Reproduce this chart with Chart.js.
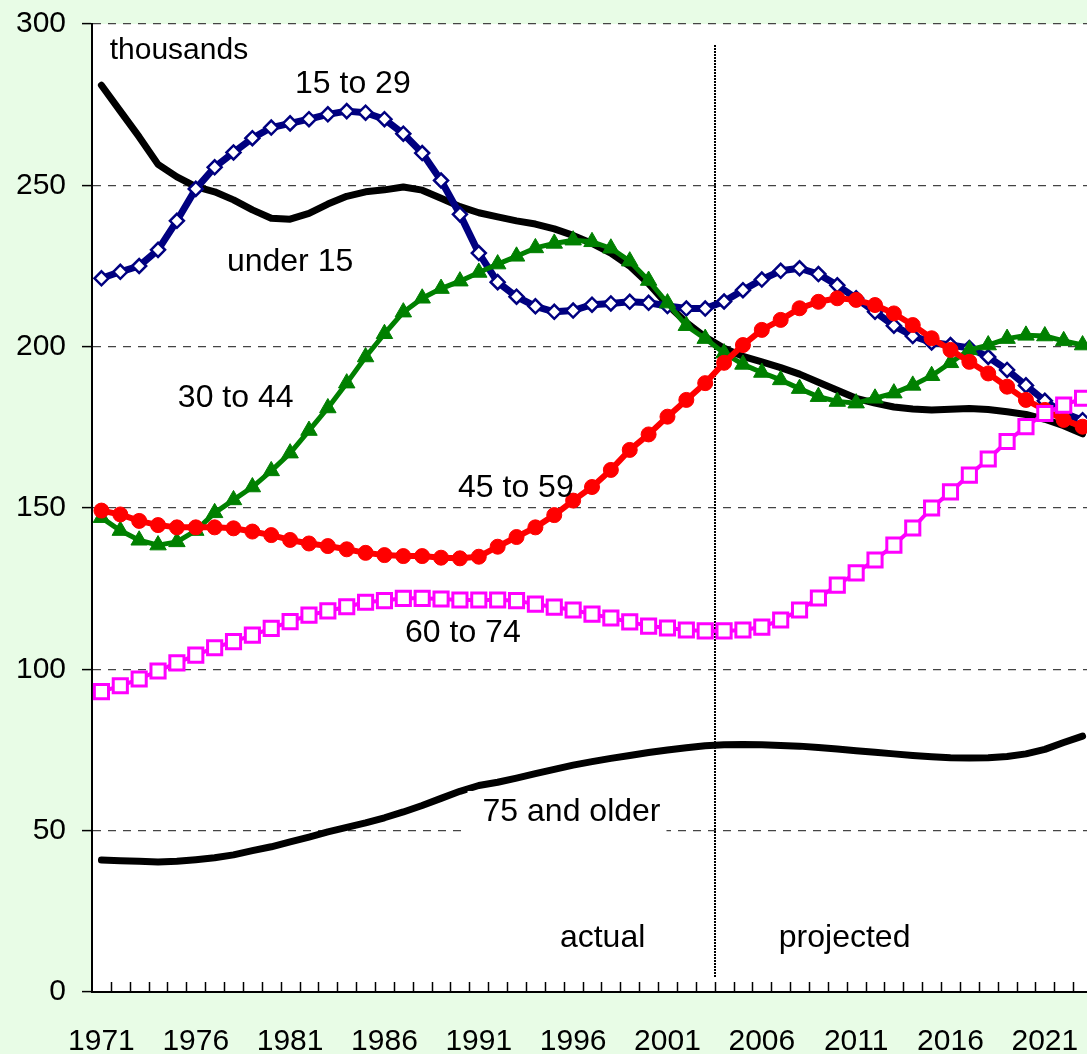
<!DOCTYPE html>
<html>
<head>
<meta charset="utf-8">
<script src="https://cdn.jsdelivr.net/npm/chart.js@4.4.0/dist/chart.umd.min.js"></script>
<style>
  html, body { margin: 0; padding: 0; background: #e8fce6; overflow: hidden; }
  #marco { width: 1092px; height: 1054px; }
</style>
</head>
<body>
<div id="marco"><canvas id="grafico" width="1092" height="1054"></canvas></div>
<script>
const years = [1971, 1972, 1973, 1974, 1975, 1976, 1977, 1978, 1979, 1980,
  1981, 1982, 1983, 1984, 1985, 1986, 1987, 1988, 1989, 1990,
  1991, 1992, 1993, 1994, 1995, 1996, 1997, 1998, 1999, 2000,
  2001, 2002, 2003, 2004, 2005, 2006, 2007, 2008, 2009, 2010,
  2011, 2012, 2013, 2014, 2015, 2016, 2017, 2018, 2019, 2020,
  2021, 2022, 2023];

// thousands
const under15 = [281, 273, 265, 256.5, 252.6, 249.6, 248, 245.5, 242.4, 239.8,
  239.5, 241.3, 244.2, 246.6, 248, 248.6, 249.5, 248.5, 246, 243.4,
  241.5, 240.2, 239, 238, 236.5, 234.5, 232, 229, 225, 219.5,
  213, 207.5, 203, 199.5, 197, 195.3, 193.5, 191.5, 189, 186.5,
  184, 182.5, 181.3, 180.7, 180.4, 180.6, 180.8, 180.5, 179.8, 179,
  177.5, 175.5, 173];
const age15to29 = [221.2, 223.2, 225, 230, 239, 248.9, 255.6, 260.2, 264.6, 267.9,
  269.2, 270.5, 272, 273, 272.5, 270.5, 266, 260, 251.5, 241,
  229, 220, 215.5, 212.5, 210.8, 211.2, 213, 213.4, 213.9, 213.6,
  212.6, 211.8, 211.8, 214, 217.5, 220.8, 223.5, 224.3, 222.5, 219,
  215, 210.8, 206.5, 203.3, 201.3, 200.5, 199.6, 196.8, 192.8, 188,
  183.2, 179.4, 177.2];
const age30to44 = [147, 143, 140, 138.5, 139.5, 143, 148.5, 152.5, 156.5, 161.5,
  167, 174, 181, 188.7, 196.8, 204, 210.7, 215, 218, 220.3,
  223, 225.6, 228, 230.6, 232, 233, 232.5, 230.5, 226.5, 220.5,
  213.5, 206.5, 202.5, 198, 194.5, 192, 189.7, 187, 184.5, 183,
  182.5, 184, 185.6, 188, 191, 195, 199, 200.5, 202.5, 203.5,
  203.3, 201.8, 200.5];
const age45to59 = [149.2, 148, 146, 144.7, 144, 144, 144, 143.7, 142.7, 141.6,
  140.1, 139, 138.2, 137.2, 136.1, 135.4, 135.1, 135.1, 134.6, 134.4,
  134.9, 138, 141, 144, 147.8, 152.3, 156.5, 161.8, 168, 172.8,
  178.3, 183.5, 188.7, 195, 200.5, 205.2, 208.3, 211.9, 213.9, 215,
  214.5, 212.9, 210.3, 206.7, 202.6, 199, 195.3, 191.7, 187.6, 183.5,
  180.4, 177.3, 175.2];
const age60to74 = [93.1, 94.9, 97, 99.5, 102, 104.4, 106.7, 108.6, 110.6, 112.7,
  114.8, 116.8, 118.1, 119.4, 120.8, 121.3, 122, 122, 121.8, 121.5,
  121.5, 121.5, 121.3, 120.2, 119.3, 118.4, 117.1, 115.9, 114.7, 113.4,
  112.8, 112.2, 111.9, 111.9, 112.2, 113.1, 115.3, 118.4, 122.1, 126.1,
  129.9, 133.9, 138.5, 143.8, 150, 155, 160.2, 165.2, 170.6, 175.2,
  179.3, 181.9, 184];
const age75plus = [40.9, 40.7, 40.5, 40.3, 40.5, 41, 41.6, 42.5, 43.8, 45,
  46.5, 48, 49.6, 51, 52.4, 54, 55.8, 57.8, 60, 62.2,
  64, 65, 66.3, 67.7, 69, 70.3, 71.4, 72.4, 73.3, 74.2,
  75, 75.7, 76.3, 76.6, 76.7, 76.6, 76.4, 76.2, 75.8, 75.3,
  74.8, 74.3, 73.8, 73.3, 72.9, 72.6, 72.5, 72.6, 73, 73.8,
  75.2, 77.3, 79.3];

const fuente = "'Liberation Sans', Arial, Helvetica, sans-serif";

// rotulos sobre el grafico: x en indice de categoria, y en miles
const rotulos = [
  { texto: "thousands", x: 0.44, y: 291.6, size: 30 },
  { texto: "15 to 29", x: 10.26, y: 281.4, size: 32 },
  { texto: "under 15", x: 6.65, y: 226.2, size: 32 },
  { texto: "30 to 44", x: 4.05, y: 184.1, size: 32 },
  { texto: "45 to 59", x: 18.9, y: 156.2, size: 32 },
  { texto: "60 to 74", x: 16.09, y: 111.3, size: 32 },
  { texto: "75 and older", x: 20.2, y: 55.8, size: 32, caja: true },
  { texto: "actual", x: 24.3, y: 16.7, size: 32 },
  { texto: "projected", x: 35.9, y: 16.7, size: 32 }
];

const fondoPlugin = {
  id: "fondo",
  beforeDraw(chart) {
    const { ctx, chartArea: a } = chart;
    ctx.save();
    ctx.fillStyle = "#e8fce6";
    ctx.fillRect(0, 0, chart.width, chart.height);
    ctx.fillStyle = "#ffffff";
    ctx.fillRect(a.left, a.top, a.right - a.left, a.bottom - a.top);
    ctx.restore();
  },
  beforeDatasetsDraw(chart) {
    // linea punteada entre datos reales y proyectados (2003 | 2004)
    const { ctx, scales: { x, y } } = chart;
    const px = Math.round(x.getPixelForValue(32.5));
    ctx.save();
    ctx.strokeStyle = "#000";
    ctx.lineWidth = 2;
    ctx.setLineDash([2, 1]);
    ctx.beginPath();
    ctx.moveTo(px, y.getPixelForValue(293.5));
    ctx.lineTo(px, y.getPixelForValue(4.6));
    ctx.stroke();
    ctx.restore();
  },
  afterDatasetsDraw(chart) {
    const { ctx, scales: { x, y } } = chart;
    ctx.save();
    ctx.textBaseline = "middle";
    ctx.textAlign = "left";
    rotulos.forEach(r => {
      ctx.font = r.size + "px " + fuente;
      const px = x.getPixelForValue(r.x);
      const py = y.getPixelForValue(r.y);
      if (r.caja) {
        const w = ctx.measureText(r.texto).width;
        ctx.fillStyle = "#fff";
        ctx.fillRect(px - 15, py - 21, w + 21, 43);
      }
      ctx.fillStyle = "#000";
      ctx.fillText(r.texto, px, py);
    });
    ctx.restore();
  },
  afterDraw(chart) {
    // marcas del eje x hacia adentro
    const { ctx, chartArea: a, scales: { x } } = chart;
    ctx.save();
    ctx.strokeStyle = "#000";
    ctx.lineWidth = 1.5;
    ctx.beginPath();
    for (let i = 1; i < years.length; i++) {
      const px = Math.round(x.getPixelForValue(i - 0.5)) + 0.5;
      ctx.moveTo(px, a.bottom);
      ctx.lineTo(px, a.bottom - 10);
    }
    ctx.stroke();
    ctx.restore();
  }
};

function serie(label, data, extra) {
  return Object.assign({
    label,
    data,
    borderJoinStyle: "round",
    borderCapStyle: "round",
    tension: 0,
    fill: false,
    pointRadius: 0
  }, extra);
}

const datasets = [
  serie("75 and older", age75plus, { borderColor: "#000", borderWidth: 7, order: 1 }),
  serie("60 to 74", age60to74, {
    borderColor: "#ff00ff", borderWidth: 4, order: 2,
    pointStyle: "rect", pointRadius: 10, pointBackgroundColor: "#fff",
    pointBorderColor: "#ff00ff", pointBorderWidth: 3
  }),
  serie("45 to 59", age45to59, {
    borderColor: "#ff0000", borderWidth: 6, order: 3,
    pointStyle: "circle", pointRadius: 7.5, pointBackgroundColor: "#ff0000",
    pointBorderColor: "#ff0000", pointBorderWidth: 1
  }),
  serie("30 to 44", age30to44, {
    borderColor: "#008000", borderWidth: 5, order: 4,
    pointStyle: "triangle", pointRadius: 9.5, pointBackgroundColor: "#008000",
    pointBorderColor: "#008000", pointBorderWidth: 1
  }),
  serie("15 to 29", age15to29, {
    borderColor: "#000080", borderWidth: 7, order: 5,
    pointStyle: "rectRot", pointRadius: 7, pointBackgroundColor: "#fff",
    pointBorderColor: "#000080", pointBorderWidth: 2.5
  }),
  serie("under 15", under15, { borderColor: "#000", borderWidth: 7, order: 6 })
];

new Chart(document.getElementById("grafico"), {
  type: "line",
  data: { labels: years.map(String), datasets },
  options: {
    responsive: false,
    animation: false,
    devicePixelRatio: 1,
    layout: { autoPadding: false, padding: { top: 24, right: 0, bottom: 0, left: 0 } },
    plugins: { legend: { display: false }, tooltip: { enabled: false } },
    scales: {
      x: {
        type: "category",
        offset: true,
        grid: { display: false },
        border: { display: true, color: "#000", width: 2 },
        ticks: {
          autoSkip: false,
          maxRotation: 0,
          padding: 24,
          color: "#000",
          font: { family: fuente, size: 30 },
          callback: (v, i) => ((years[i] - 1971) % 5 === 0 ? String(years[i]) : "")
        },
        afterFit: s => { s.height = 62; s.paddingLeft = 0; s.paddingRight = 0; }
      },
      y: {
        min: 0,
        max: 300,
        ticks: {
          stepSize: 50,
          padding: 16,
          color: "#000",
          font: { family: fuente, size: 30 }
        },
        grid: {
          color: "#444",
          lineWidth: 1.2,
          tickLength: 10,
          tickColor: "#000",
          tickWidth: 1.5,
          tickBorderDash: []
        },
        border: { display: true, color: "#000", width: 2, dash: [8, 7] },
        afterFit: s => { s.width = 92; s.paddingTop = 0; s.paddingBottom = 0; }
      }
    }
  },
  plugins: [fondoPlugin]
});
</script>
</body>
</html>
